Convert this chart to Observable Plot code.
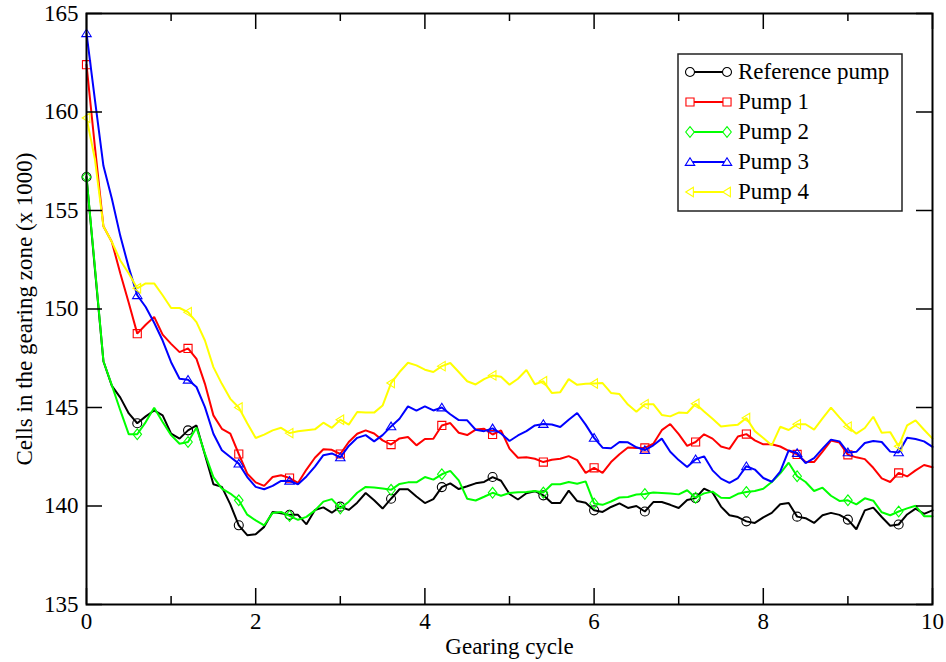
<!DOCTYPE html>
<html><head><meta charset="utf-8">
<script src="https://cdn.jsdelivr.net/npm/d3@7"></script>
<script src="https://cdn.jsdelivr.net/npm/@observablehq/plot@0.6"></script>
<style>
body{margin:0;background:#fff;}
svg{display:block}
svg text{font-family:"Liberation Serif","DejaVu Serif",serif !important;}
</style>
</head><body><div id="chart"></div>
<script>
const cycles = d3.range(101).map(i => i / 10);
const refPump = [156.7,152.0,147.35,146.1,145.5,144.7,144.2,144.55,144.85,144.6,
143.67,143.42,143.84,144.09,142.6,141.1,140.97,140.08,139.02,138.52,
138.57,138.94,139.7,139.63,139.55,139.55,139.07,139.8,139.93,139.66,
139.97,139.8,140.17,140.66,140.29,139.87,140.37,140.85,140.85,140.48,
140.15,140.35,140.96,141.15,140.86,141.0,141.15,141.22,141.47,141.28,
140.61,140.33,140.65,140.75,140.54,140.15,140.15,140.78,140.25,140.16,
139.78,139.7,139.95,140.13,139.9,140.0,139.72,140.2,140.2,140.06,
139.9,140.3,140.4,140.88,140.68,139.97,139.53,139.44,139.22,139.14,
139.42,139.65,140.09,140.15,139.46,139.38,139.14,139.53,139.65,139.55,
139.31,138.82,139.78,139.92,139.44,139.0,139.06,139.57,139.87,139.6,
139.78];
const pump1 = [162.4,158.2,154.2,153.4,151.8,150.3,148.75,149.2,149.6,148.7,
148.23,147.81,148.0,147.47,146.2,144.6,143.92,143.67,142.64,141.64,
141.2,141.02,141.47,141.56,141.42,141.17,141.85,142.45,142.88,142.85,
142.64,143.25,143.67,143.84,143.68,143.33,143.12,143.43,143.5,143.08,
143.4,143.41,144.09,144.21,143.72,143.6,143.88,143.92,143.63,143.84,
142.91,142.45,142.47,142.4,142.23,142.35,142.4,142.53,142.33,141.68,
141.94,141.68,142.23,142.63,142.97,142.94,142.95,143.16,143.85,144.16,
143.65,143.05,143.25,143.64,143.42,143.02,142.9,143.53,143.65,143.33,
143.13,143.13,143.02,142.8,142.62,142.23,142.23,142.76,143.32,143.22,
142.6,142.47,142.38,141.94,141.4,141.22,141.68,141.5,141.81,142.08,
141.97];
const pump2 = [156.7,152.1,147.35,146.12,144.85,143.64,143.64,144.26,144.99,144.26,
143.6,143.16,143.25,143.98,142.66,141.47,140.88,140.63,140.29,139.56,
139.27,139.02,139.65,139.7,139.5,139.3,139.45,139.78,140.22,140.35,
139.88,140.22,140.67,140.97,140.94,140.89,140.82,141.12,141.2,141.2,
141.47,141.34,141.61,141.78,141.3,140.37,140.28,140.47,140.67,140.52,
140.66,140.7,140.71,140.76,140.68,141.1,141.1,141.22,141.13,141.25,
140.13,140.06,140.23,140.43,140.46,140.58,140.61,140.68,140.66,140.63,
140.59,140.8,140.42,140.64,140.73,140.42,140.4,140.62,140.71,140.76,
140.88,141.22,141.66,142.2,141.51,141.22,140.76,140.93,140.52,140.26,
140.29,140.08,140.39,140.27,139.68,139.53,139.72,139.88,140.01,139.48,
139.48];
const pump3 = [164.0,160.6,157.27,155.6,153.7,152.1,150.7,150.1,149.3,148.4,
147.3,146.46,146.41,146.04,145.02,143.67,142.83,142.49,142.15,141.47,
140.97,140.85,141.02,141.27,141.28,141.1,141.5,142.0,142.58,142.67,
142.47,143.05,143.46,143.6,143.28,143.6,144.04,144.43,145.06,144.84,
145.06,144.85,145.0,144.66,144.36,144.35,143.87,143.8,143.94,143.68,
143.3,143.58,143.8,144.09,144.16,144.14,144.01,144.38,144.72,144.13,
143.46,142.96,142.93,143.25,143.23,142.98,142.84,143.08,143.42,142.75,
142.33,141.98,142.37,142.52,141.81,141.39,141.17,141.42,142.02,141.85,
141.42,141.23,141.75,142.82,142.69,142.18,142.43,142.91,143.37,143.28,
142.72,142.75,143.2,143.3,143.25,142.76,142.72,143.47,143.4,143.28,
143.0];
const pump4 = [159.7,157.6,154.2,153.4,152.46,151.8,151.05,151.3,151.3,150.7,
150.05,150.05,149.84,149.33,148.4,147.05,146.2,145.44,145.0,144.2,
143.45,143.62,143.84,143.97,143.7,143.79,143.84,143.89,144.23,143.97,
144.38,144.13,144.77,144.74,144.74,145.1,146.24,146.8,147.27,147.14,
146.92,146.8,147.1,147.26,146.8,146.33,146.17,146.44,146.63,146.56,
146.16,146.46,146.9,146.18,146.33,145.74,145.78,146.44,146.15,146.2,
146.22,146.24,145.74,145.68,145.15,144.78,145.17,145.17,144.62,144.55,
144.74,144.72,145.19,144.8,144.43,144.04,144.09,144.13,144.47,143.8,
143.45,143.08,144.02,143.86,144.15,144.15,143.88,144.45,144.99,144.5,
144.03,143.67,143.96,144.53,143.72,143.75,143.03,144.09,144.35,143.87,
143.42];

const seriesNames = ["Reference pump", "Pump 1", "Pump 2", "Pump 3", "Pump 4"];
const seriesValues = [refPump, pump1, pump2, pump3, pump4];
const seriesColors = ["#000000", "#ff0000", "#00ff00", "#0000ff", "#ffff00"];
const xMajorTicks = [0, 2, 4, 6, 8, 10];
const xMinorTicks = [1, 3, 5, 7, 9];
const yTicks = [135, 140, 145, 150, 155, 160, 165];
const xLabel = "Gearing cycle";
const yLabel = "Cells in the gearing zone (x 1000)";

const FONT = "'Liberation Serif', 'DejaVu Serif', serif";

// marker shapes
const symSquare = {draw(c, s) { const r = Math.sqrt(s / Math.PI) * 0.9; c.rect(-r, -r, 2 * r, 2 * r); }};
const symDiamond = {draw(c, s) { const r = Math.sqrt(s / Math.PI); c.moveTo(0, -1.2 * r); c.lineTo(0.95 * r, 0); c.lineTo(0, 1.2 * r); c.lineTo(-0.95 * r, 0); c.closePath(); }};
const symTriUp = {draw(c, s) { const r = Math.sqrt(s / Math.PI); c.moveTo(0, -0.95 * r); c.lineTo(1.05 * r, 0.75 * r); c.lineTo(-1.05 * r, 0.75 * r); c.closePath(); }};
const symTriLeft = {draw(c, s) { const r = Math.sqrt(s / Math.PI); c.moveTo(-0.95 * r, 0); c.lineTo(0.75 * r, -1.05 * r); c.lineTo(0.75 * r, 1.05 * r); c.closePath(); }};
const seriesSymbols = [d3.symbolCircle, symSquare, symDiamond, symTriUp, symTriLeft];

const W = 946, H = 662;
const mL = 86, mR = 14, mT = 13, mB = 58;
const plotH = H - mT - mB, plotW = W - mL - mR;
const markerR = 4.5;

const rows = [];
seriesNames.forEach((name, k) => {
  seriesValues[k].forEach((v, i) => rows.push({series: name, k, cycle: cycles[i], value: v, idx: i}));
});

const marks = [];
seriesNames.forEach((name, k) => {
  const d = rows.filter(r => r.k === k);
  marks.push(Plot.line(d, {x: "cycle", y: "value", stroke: seriesColors[k], strokeWidth: 2, strokeLinejoin: "miter"}));
  marks.push(Plot.dot(d.filter(r => r.idx % 6 === 0), {x: "cycle", y: "value", stroke: seriesColors[k], fill: "none", symbol: seriesSymbols[k], r: markerR, strokeWidth: 1.1}));
});

const chart = Plot.plot({
  width: W, height: H,
  marginLeft: mL, marginRight: mR, marginTop: mT, marginBottom: mB,
  style: {fontFamily: FONT, fontSize: "23px", background: "white", color: "black"},
  x: {domain: [0, 10], axis: null},
  y: {domain: [135, 165], axis: null},
  marks: [
    ...marks,
    Plot.frame({stroke: "black", strokeWidth: 2}),
    Plot.tickX(xMajorTicks, {x: d => d, stroke: "black", strokeWidth: 1.5, insetTop: plotH - 16}),
    Plot.tickX(xMajorTicks, {x: d => d, stroke: "black", strokeWidth: 1.5, insetBottom: plotH - 16}),
    Plot.tickX(xMinorTicks, {x: d => d, stroke: "black", strokeWidth: 1.5, insetTop: plotH - 8}),
    Plot.tickX(xMinorTicks, {x: d => d, stroke: "black", strokeWidth: 1.5, insetBottom: plotH - 8}),
    Plot.tickY(yTicks, {y: d => d, stroke: "black", strokeWidth: 1.5, insetRight: plotW - 16}),
    Plot.tickY(yTicks, {y: d => d, stroke: "black", strokeWidth: 1.5, insetLeft: plotW - 16}),
    Plot.axisX(xMajorTicks, {tickSize: 0, tickPadding: 8, label: null, fontSize: 23}),
    Plot.axisY(yTicks, {tickSize: 0, tickPadding: 8, label: null, fontSize: 23}),
    Plot.text([xLabel], {frameAnchor: "bottom", dy: 49, lineAnchor: "bottom", textAnchor: "middle", fontSize: 23}),
    Plot.text([yLabel], {frameAnchor: "left", dx: -55, rotate: -90, lineAnchor: "bottom", textAnchor: "middle", fontSize: 23})
  ]
});
document.getElementById("chart").appendChild(chart);

// legend inside the plot (top right)
const svg = d3.select(chart);
svg.style("font-family", FONT);
const lg = svg.append("g").attr("class", "legend");
lg.append("rect").attr("x", 678).attr("y", 54).attr("width", 224).attr("height", 157)
  .attr("fill", "white").attr("stroke", "#222").attr("stroke-width", 1.5);
seriesNames.forEach((name, k) => {
  const y = 72 + 30 * k;
  lg.append("line").attr("x1", 690).attr("x2", 727).attr("y1", y).attr("y2", y)
    .attr("stroke", seriesColors[k]).attr("stroke-width", 2);
  const path = d3.symbol(seriesSymbols[k], markerR * markerR * Math.PI)();
  [690, 727].forEach(x => lg.append("path").attr("d", path).attr("transform", `translate(${x},${y})`)
    .attr("fill", "white").attr("stroke", seriesColors[k]).attr("stroke-width", 1.1));
  lg.append("text").attr("x", 738).attr("y", y).attr("dy", "0.32em")
    .attr("text-anchor", "start")
    .style("font-family", FONT).style("font-size", "23px")
    .attr("fill", "black").text(name);
});
</script>
</body></html>
